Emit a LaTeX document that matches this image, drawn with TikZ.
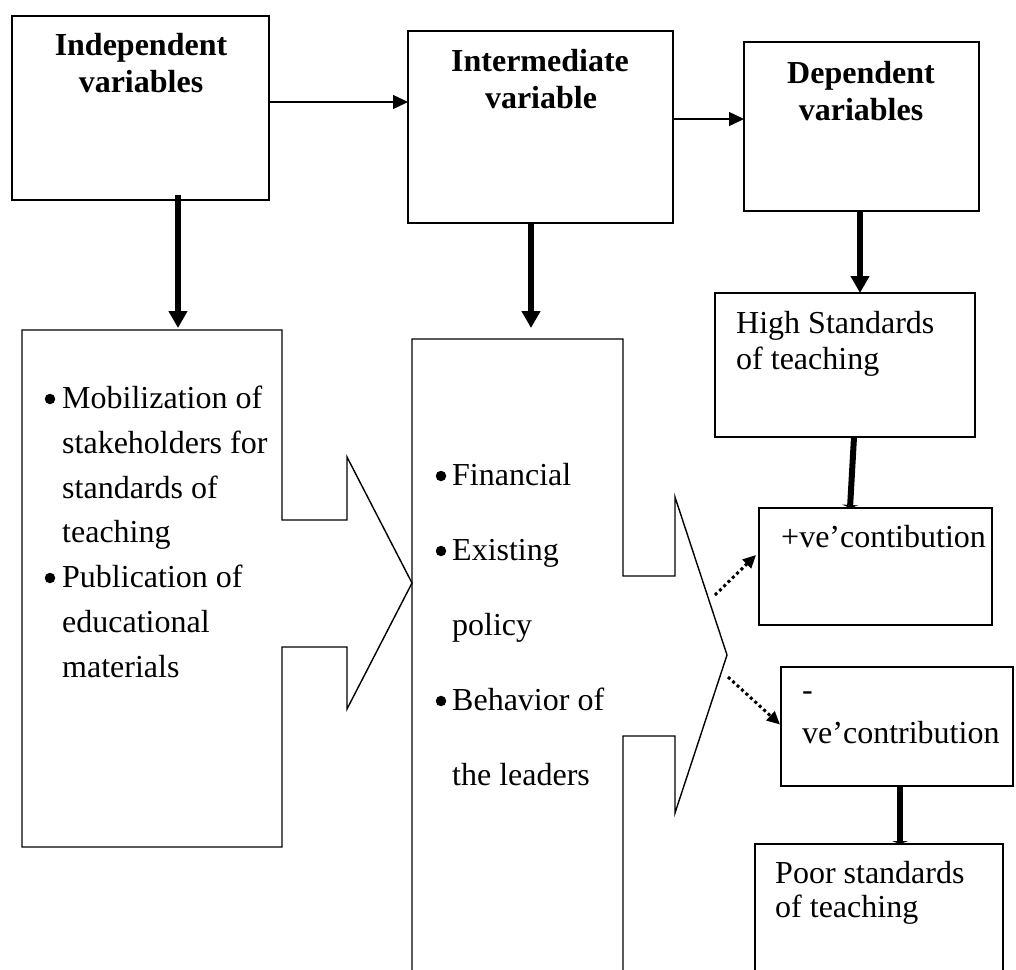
\documentclass[tikz,border=0pt]{standalone}
\usepackage{fontspec}
\setmainfont{Liberation Serif}
\usetikzlibrary{arrows.meta}
\begin{document}
\begin{tikzpicture}[x=1pt,y=-1pt,
  frame/.style={draw, line width=1.4pt, inner sep=0pt, outer sep=0pt, anchor=north west},
  ghost/.style={inner sep=0pt, outer sep=0pt, anchor=north west},
  outline/.style={line width=1.4pt, line join=miter},
  head/.style={font=\fontsize{32}{38}\selectfont\bfseries, anchor=base, inner sep=0pt},
  body/.style={font=\fontsize{32}{38}\selectfont, anchor=base west, inner sep=0pt},
  bulletdot/.style={circle, fill=black, inner sep=0pt, minimum size=10.5pt},
  thinarrow/.style={line width=1.4pt, -{Triangle[length=15pt,width=14pt]}},
  thickarrow/.style={line width=6pt, -{Triangle[length=17pt,width=18pt]}},
  dotarrow/.style={line width=3pt, dash pattern=on 3pt off 3pt, -{Triangle[length=13pt,width=12pt]}},
  stub/.style={line width=6pt, -{Triangle[length=3pt,width=16pt]}}]
\clip (0,0) rectangle (1016,969);
\fill[white] (0,0) rectangle (1016,969);

% top boxes
\node[frame, minimum width=257pt, minimum height=184pt] (A) at (12,16) {};
\node[frame, minimum width=265pt, minimum height=192pt] (B) at (408,31) {};
\node[frame, minimum width=235pt, minimum height=169pt] (C) at (744,42) {};
\node[head] (tA1) at (141,55) {Independent};
\node[head] (tA2) at (141,92) {variables};
\node[head] (tB1) at (540,71) {Intermediate};
\node[head] (tB2) at (541,108) {variable};
\node[head] (tC1) at (861,83) {Dependent};
\node[head] (tC2) at (861,120) {variables};

% right-side boxes
\node[frame, minimum width=260pt, minimum height=144pt] (H) at (715,293) {};
\node[frame, minimum width=233pt, minimum height=117pt] (P) at (759,508) {};
\node[frame, minimum width=232pt, minimum height=119pt] (N) at (781,667) {};
\node[frame, minimum width=248pt, minimum height=131pt] (Q) at (755,844) {};

% callout boxes (outline drawn below)
\node[ghost, minimum width=260pt, minimum height=517pt] (D) at (22,330) {};
\node[ghost, minimum width=211pt, minimum height=640pt] (E) at (412,339) {};
\draw[outline] (D.north east) -- (D.north west) -- (D.south west) -- (D.south east)
  -- (282,647) -- (347,647) -- (347,709) -- (412,583) -- (347,457) -- (347,520)
  -- (282,520) -- cycle;
\draw[outline] (E.south west) -- (E.north west) -- (E.north east) -- (623,576)
  -- (675,576) -- (675,497) -- (727,655) -- (675,813) -- (675,736) -- (623,736)
  -- (E.south east);

% texts in D
\node[bulletdot] (bD1) at (50,399) {};
\node[body] (d1) at (62,408) {Mobilization of};
\node[body] (d2) at (62,453) {stakeholders for};
\node[body] (d3) at (62,498) {standards of};
\node[body] (d4) at (62,542) {teaching};
\node[bulletdot] (bD2) at (50,578) {};
\node[body] (d5) at (62,587) {Publication of};
\node[body] (d6) at (62,632) {educational};
\node[body] (d7) at (62,677) {materials};

% texts in E
\node[bulletdot] (bE1) at (441,476) {};
\node[body] (e1) at (452,485) {Financial};
\node[bulletdot] (bE2) at (441,551) {};
\node[body] (e2) at (452,560) {Existing};
\node[body] (e3) at (452,635) {policy};
\node[bulletdot] (bE3) at (441,701) {};
\node[body] (e4) at (452,710) {Behavior of};
\node[body] (e5) at (452,785) {the leaders};

% texts in right boxes
\node[body] (h1) at (736,333) {High Standards};
\node[body] (h2) at (736,369) {of teaching};
\node[body] (p1) at (781,547) {+ve’contibution};
\node[body] (n1) at (802,700) {-};
\node[body] (n2) at (802,743) {ve’contribution};
\node[body] (q1) at (775,883) {Poor standards};
\node[body] (q2) at (775,917) {of teaching};

% connectors
\draw[thinarrow] ([yshift=6pt]A.east) -- ([yshift=6pt]A.east -| B.west);
\draw[thinarrow] ([yshift=8pt]B.east) -- ([yshift=8pt]B.east -| C.west);
\draw[thickarrow, shorten >=2pt] ([xshift=37.5pt,yshift=5pt]A.south) -- ([xshift=37.5pt]A.south |- D.north);
\draw[thickarrow, shorten >=11pt] ([xshift=-9.5pt]B.south) -- ([xshift=-9.5pt]B.south |- E.north);
\draw[thickarrow] ([xshift=-1.5pt]C.south) -- ([xshift=-1.5pt]C.south |- H.north);
\draw[stub] ([xshift=9pt]H.south) -- ([xshift=-25.5pt]P.north);
\draw[stub] ([xshift=3pt]N.south) -- ([xshift=3pt]N.south |- Q.north);
\coordinate (s1) at (715,595);
\coordinate (t1) at (756,555);
\coordinate (s2) at (728,677);
\draw[dotarrow] (s1) -- (t1);
\draw[dotarrow] (s2) -- ([xshift=-1pt,yshift=2pt]N.west);
\end{tikzpicture}
\end{document}
